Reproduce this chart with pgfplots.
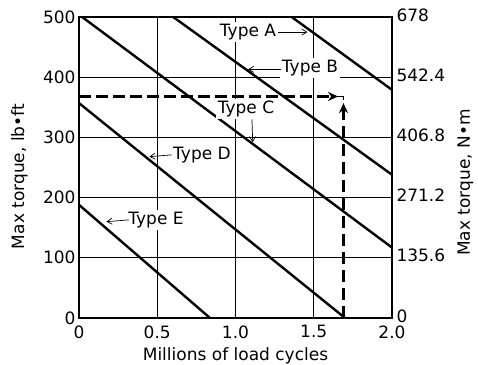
\documentclass[border=0pt]{standalone}
\usepackage{pgfplots}
\pgfplotsset{compat=1.18}
\usepackage{fontspec}
\setmainfont{DejaVu Sans}
\usetikzlibrary{arrows.meta}
\begin{document}
\begin{tikzpicture}[font=\fontsize{17}{20}\selectfont]
\begin{axis}[name=ax,
  scale only axis, width=313pt, height=301pt,
  xmin=0, xmax=2, ymin=0, ymax=500,
  xtick={0,0.5,1,1.5,2}, xticklabels={0,0.5,1.0,1.5,2.0},
  ytick={0,100,200,300,400,500}, yticklabels={0,100,200,300,400,500},
  xticklabel style={yshift=-4pt},
  grid=major, major grid style={black, line width=0.6pt},
  major tick length=0pt,
  axis line style={line width=1.6pt},
  every axis x label/.style={at={(axis description cs:0.5,-0.125)}, anchor=center},
  every axis y label/.style={at={(axis description cs:-0.19,0.47)}, rotate=90, anchor=center},
  xlabel={Millions of load cycles},
  ylabel={Max torque, lb•ft},
  clip=false,
]
% Type A
\addplot[black, line width=2.4pt] coordinates {(1.359,500) (2.0,379)};
% Type B
\addplot[black, line width=2.4pt] coordinates {(0.602,500) (2.0,238)};
% Type C
\addplot[black, line width=2.4pt] coordinates {(0.02,500) (2.0,117)};
% Type D
\addplot[black, line width=2.4pt] coordinates {(0,357) (1.70,0)};
% Type E
\addplot[black, line width=2.4pt] coordinates {(0,188) (0.837,0)};
% dashed guide lines
\addplot[black, line width=2.4pt, dash pattern=on 12pt off 5pt, -{Stealth[length=10pt,width=9pt]}] coordinates {(0,368) (1.655,368)};
\addplot[black, line width=1.2pt] coordinates {(1.64,368) (1.69,368) (1.69,362)};
\addplot[black, line width=2.4pt, dash pattern=on 12pt off 6pt, -{Stealth[length=10pt,width=9pt]}] coordinates {(1.69,0) (1.69,357)};
% labels
\node[fill=white, inner sep=2pt] at (axis cs:1.08,475) {Type A};
\draw[line width=0.7pt, -{Straight Barb[length=5pt,width=6pt]}] (axis cs:1.272,475) -- (axis cs:1.46,475);
\node[fill=white, inner sep=2pt] at (axis cs:1.476,415) {Type B};
\draw[line width=0.7pt, -{Straight Barb[length=5pt,width=6pt]}] (axis cs:1.29,413) -- (axis cs:1.08,413);
\node[fill=white, inner sep=2pt] at (axis cs:1.067,347) {Type C};
\draw[line width=0.7pt, -{Straight Barb[length=5pt,width=6pt]}] (axis cs:1.105,330) -- (axis cs:1.11,292);
\node[fill=white, inner sep=2pt] at (axis cs:0.786,271) {Type D};
\draw[line width=0.7pt, -{Straight Barb[length=5pt,width=6pt]}] (axis cs:0.592,271) -- (axis cs:0.45,268);
\node[fill=white, inner sep=2pt] at (axis cs:0.492,163) {Type E};
\draw[line width=0.7pt, -{Straight Barb[length=5pt,width=6pt]}] (axis cs:0.319,163) -- (axis cs:0.175,160);
\end{axis}
\begin{axis}[
  scale only axis, width=313pt, height=301pt,
  xmin=0, xmax=2, ymin=0, ymax=678,
  axis x line=none, axis y line*=right,
  ytick={0,135.6,271.2,406.8,542.4,678},
  yticklabels={0,135.6,271.2,406.8,542.4,678},
  yticklabel style={xshift=1pt, yshift=2pt},
  major tick length=0pt,
  axis line style={line width=1.6pt},
  every axis y label/.style={at={(axis description cs:1.235,0.45)}, rotate=90, anchor=center},
  ylabel={Max torque, N•m},
]
\end{axis}
\pgfresetboundingbox
\path[use as bounding box] ([xshift=-79pt,yshift=-47pt]ax.south west) rectangle ([xshift=86pt,yshift=17pt]ax.north east);
\end{tikzpicture}
\end{document}
